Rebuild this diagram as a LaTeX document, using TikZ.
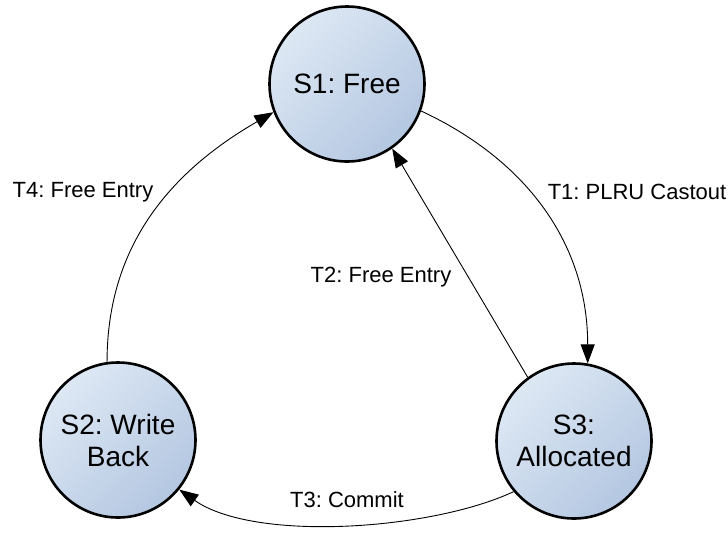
\documentclass[tikz,border=0pt]{standalone}
\usepackage{fontspec}
\setmainfont{Liberation Sans}
\usetikzlibrary{arrows.meta}
\definecolor{stlight}{HTML}{DDE8F4}
\definecolor{stdark}{HTML}{B4C7E1}
\frenchspacing
\begin{document}
\begin{tikzpicture}[x=1pt,y=-1pt,
  state/.style={circle, draw=black, line width=2.6pt, minimum size=155pt, inner sep=0pt,
    top color=stlight, bottom color=stdark, shading angle=45,
    font=\fontsize{28}{32}\selectfont, align=center},
  trans/.style={line width=0.9pt, -{Triangle[length=19pt,width=14pt]}},
  lbl/.style={font=\fontsize{22}{26}\selectfont, inner sep=0pt}]
\useasboundingbox (0,0) rectangle (728,542);
\node[state] (S1) at (347,84) {S1: Free};
\node[state] (S2) at (118,440) {S2: Write\\Back};
\node[state] (S3) at (574,441) {S3:\\Allocated};
\draw[trans] (S1.-20) to[out=-25,in=90] (S3.80);
\draw[trans] (S3.126) -- (S1.-55);
\draw[trans] (S3.220) to[out=-155,in=-35,looseness=0.7] (S2.-39);
\draw[trans] (S2.98) to[out=90,in=-150] (S1.-159);
\node[lbl] (L1) at (637,192) {T1: PLRU Castout};
\node[lbl] (L2) at (381,277) {T2: Free Entry};
\node[lbl] (L3) at (347,500) {T3: Commit};
\node[lbl] (L4) at (83,192) {T4: Free Entry};
\end{tikzpicture}
\end{document}
